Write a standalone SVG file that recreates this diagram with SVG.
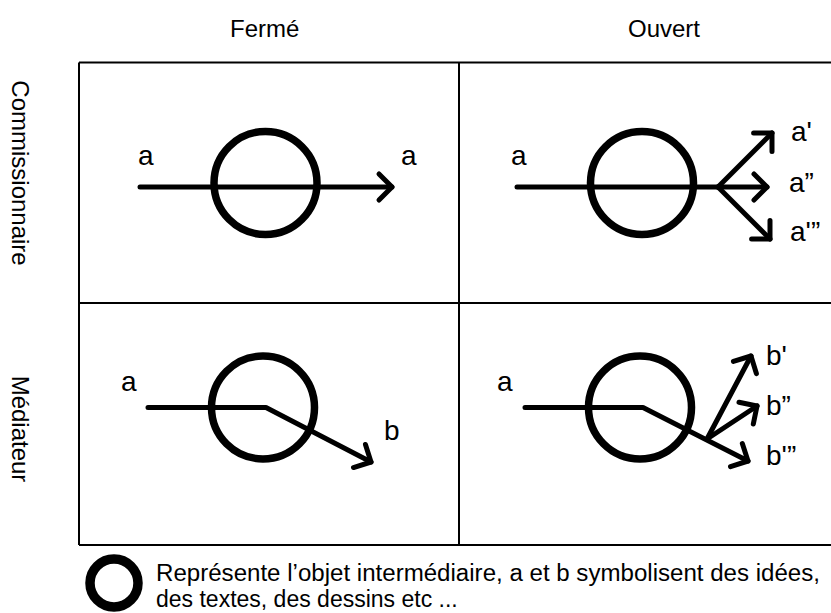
<svg xmlns="http://www.w3.org/2000/svg" width="831" height="613" viewBox="0 0 831 613">
<defs>
<marker id="chev" markerUnits="userSpaceOnUse" viewBox="-20 -20 25 40" refX="0" refY="0" markerWidth="25" markerHeight="40" orient="auto" overflow="visible">
<path d="M -13,-13 L 0,0 L -13,13" fill="none" stroke="#000" stroke-width="5" stroke-linecap="round" stroke-linejoin="round"/>
</marker>
</defs>
<style>
text{font-family:"Liberation Sans",Arial,sans-serif;fill:#000}
.hdr{font-size:24px}
.leg{font-size:23px}
.lbl{font-size:28px}
.obj{fill:none;stroke:#000;stroke-width:7.5}
.flow{fill:none;stroke:#000;stroke-width:5;stroke-linecap:round;stroke-linejoin:round}
.arr{marker-end:url(#chev)}
.grid{stroke:#000;stroke-width:2;fill:none}
</style>
<rect width="831" height="613" fill="#fff"/>
<g id="grid">
<path class="grid" d="M79,62.5 H831 M79,303 H831 M79,545 H831 M79,62.5 V545 M459,62.5 V545"/>
</g>
<g id="headers">
<text class="hdr" x="230" y="37">Fermé</text>
<text class="hdr" x="628" y="37">Ouvert</text>
<text class="hdr" text-anchor="middle" transform="translate(12,173) rotate(90)">Commissionnaire</text>
<text class="hdr" text-anchor="middle" transform="translate(12,429) rotate(90)">Médiateur</text>
</g>
<g id="node-ferme-commissionnaire">
<circle class="obj" cx="265.5" cy="183" r="51.5"/>
<text class="lbl" x="138" y="165">a</text>
<text class="lbl" x="401" y="165">a</text>
</g>
<g id="node-ouvert-commissionnaire">
<circle class="obj" cx="642" cy="183" r="51.5"/>
<text class="lbl" x="511" y="165">a</text>
<text class="lbl" x="791" y="141">a'</text>
<text class="lbl" x="789" y="192">a”</text>
<text class="lbl" x="790" y="241">a'”</text>
</g>
<g id="node-ferme-mediateur">
<circle class="obj" cx="263" cy="407.5" r="51.5"/>
<text class="lbl" x="121" y="391">a</text>
<text class="lbl" x="384" y="440">b</text>
</g>
<g id="node-ouvert-mediateur">
<circle class="obj" cx="640" cy="407.5" r="51.5"/>
<text class="lbl" x="497" y="391">a</text>
<text class="lbl" x="766" y="365">b'</text>
<text class="lbl" x="766" y="415">b”</text>
<text class="lbl" x="766" y="465">b'”</text>
</g>
<g id="legend">
<circle cx="114" cy="583" r="24" fill="none" stroke="#000" stroke-width="9.5"/>
<text class="leg" x="156" y="581" textLength="664" lengthAdjust="spacingAndGlyphs">Représente l’objet intermédiaire, a et b symbolisent des idées,</text>
<text class="leg" x="156" y="607">des textes, des dessins etc ...</text>
</g>
<g id="connectors">
<path class="flow arr" d="M140,187 H392"/>
<path class="flow" d="M517,187 H718"/>
<path class="flow arr" d="M718,187 H767"/>
<path class="flow arr" d="M718,187 L772,133"/>
<path class="flow arr" d="M718,187 L770,239"/>
<path class="flow arr" d="M148,407.5 H266 L371,462"/>
<path class="flow arr" d="M525,407.5 H643 L748,461"/>
<path class="flow arr" d="M707,439 L751,356"/>
<path class="flow arr" d="M707,439 L757,406"/>
</g>
</svg>
